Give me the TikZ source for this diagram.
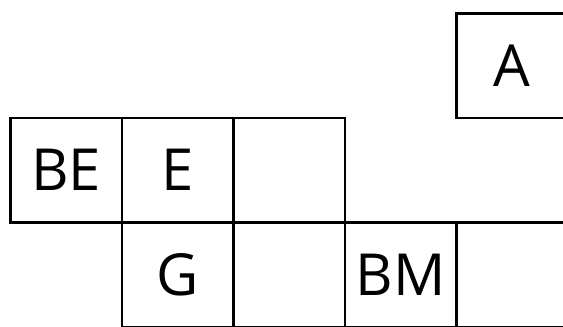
\documentclass[tikz,border=0pt]{standalone}
\usepackage{fontspec}
\setmainfont{Open Sans}
\begin{document}
\begin{tikzpicture}[x=1pt,y=-1pt,
  cell/.style={draw=black, line width=2.5pt, rectangle, minimum width=111.5pt, minimum height=104.5pt, inner sep=0pt, anchor=center, font=\fontsize{58}{60}\selectfont, text=black}]
\useasboundingbox (0,0) rectangle (563,327);
% rows: 13-118, 118-222.5, 222.5-327 ; columns: 10.5,122,233.5,345,456.5,568
\node[cell] (a)  at (512.25,65.5) {A};
\node[cell] (be) at (66.25,170.25) {BE};
\node[cell] (e)  at (177.75,170.25) {E};
\node[cell] (r2c3) at (289.25,170.25) {};
\node[cell] (g)  at (177.75,274.75) {G};
\node[cell] (r3c3) at (289.25,274.75) {};
\node[cell] (bm) at (400.75,274.75) {BM};
\node[cell] (r3c5) at (512.25,274.75) {};
\end{tikzpicture}
\end{document}
